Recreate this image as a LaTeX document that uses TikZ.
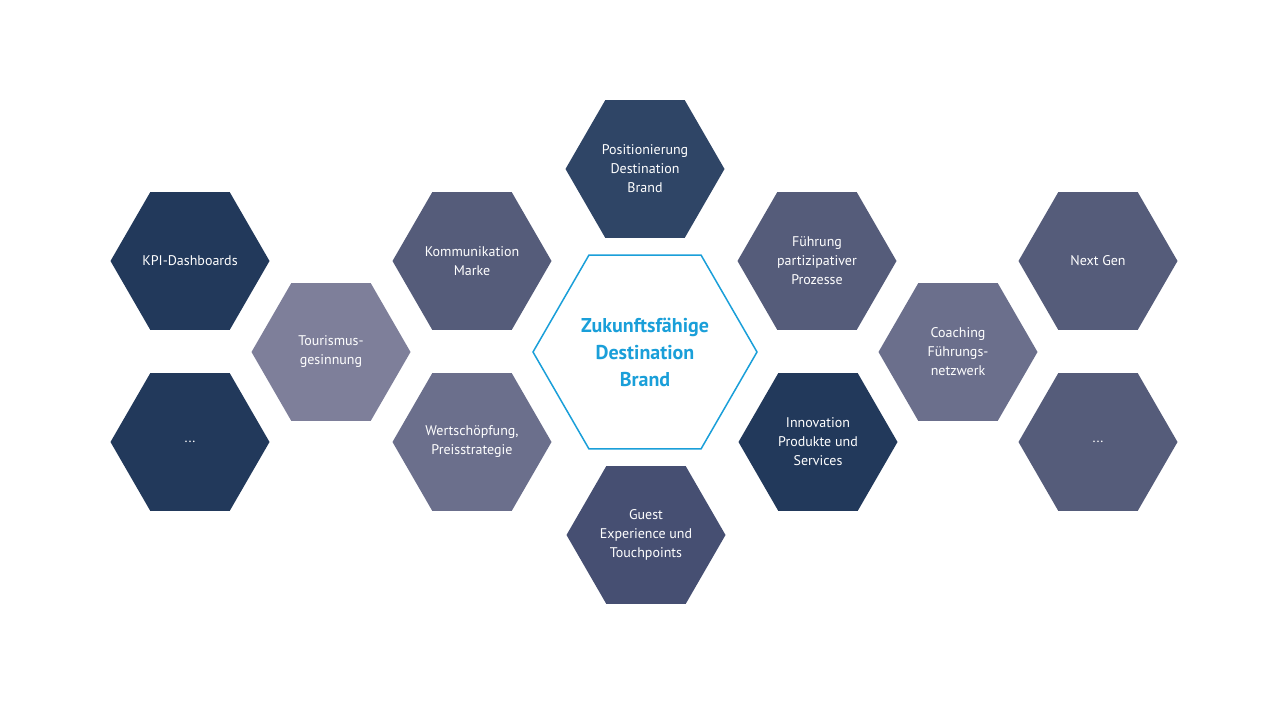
\documentclass[tikz,border=0pt]{standalone}
\usepackage{fontspec}
\setmainfont{PT Sans}
\usetikzlibrary{shapes.geometric}
\definecolor{navy}{HTML}{22395B}
\definecolor{posc}{HTML}{2F4566}
\definecolor{midc}{HTML}{555C7A}
\definecolor{guestc}{HTML}{464F72}
\definecolor{lightc}{HTML}{6B6F8C}
\definecolor{palec}{HTML}{7E7F9A}
\definecolor{bluec}{HTML}{1A9FD9}
\begin{document}
\begin{tikzpicture}[x=1pt,y=-1pt,
  hex/.style={regular polygon,regular polygon sides=6,minimum size=159pt,inner sep=0pt,
    draw=none,fill=#1,text=white,align=center,font=\fontsize{14}{19}\selectfont}]
\useasboundingbox (0,0) rectangle (1270,714);
\fill[white] (0,0) rectangle (1270,714);
\node[hex=navy] (kpi) at (190,261) {KPI-Dashboards};
\node[hex=navy] (dl) at (190,442) {...};
\node[hex=palec] (tour) at (331,352) {Tourismus-\\gesinnung};
\node[hex=midc] (komm) at (472,261) {Kommunikation\\Marke};
\node[hex=lightc] (wert) at (472,442) {Wertschöpfung,\\Preisstrategie};
\node[hex=posc] (pos) at (645,169) {Positionierung\\Destination\\Brand};
\node[regular polygon,regular polygon sides=6,minimum size=224pt,inner sep=0pt,
  draw=bluec,line width=1.5pt,text=bluec,align=center,
  font=\fontsize{20}{27}\selectfont\bfseries] (center) at (645,352) {Zukunftsfähige\\Destination\\Brand};
\node[hex=guestc] (guest) at (646,535) {Guest\\Experience und\\Touchpoints};
\node[hex=midc] (fuehr) at (817,261) {Führung\\partizipativer\\Prozesse};
\node[hex=navy] (inno) at (818,442) {Innovation\\Produkte und\\Services};
\node[hex=lightc] (coach) at (958,352) {Coaching\\Führungs-\\netzwerk};
\node[hex=midc] (next) at (1098,261) {Next Gen};
\node[hex=midc] (dr) at (1098,442) {...};
\end{tikzpicture}
\end{document}
